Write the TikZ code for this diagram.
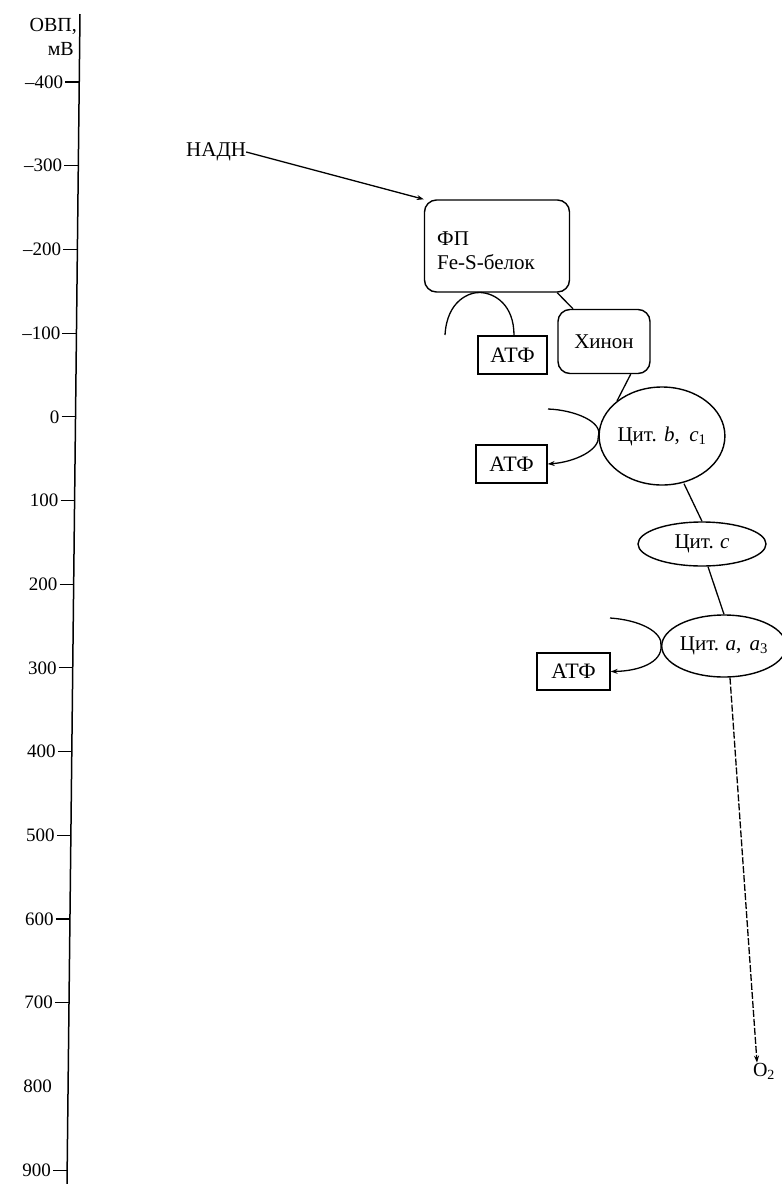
\documentclass[tikz,border=0pt]{standalone}
\usepackage{fontspec}
\setmainfont{Liberation Serif}
\usetikzlibrary{arrows.meta,shapes.geometric}
\tikzset{
  ln/.style={line width=1.3pt, black},
  arr/.style={ln, -{Stealth[length=7pt,width=5pt]}},
  rbox/.style={draw, line width=1.4pt, rounded corners=12pt, font=\fontsize{21}{24}\selectfont},
  atp/.style={draw, line width=1.4pt, inner sep=0pt, font=\fontsize{22}{24}\selectfont},
  ell/.style={draw, ellipse, line width=1.4pt, inner sep=0pt, font=\fontsize{21}{23}\selectfont},
  tick/.style={line width=1.1pt},
  ticklab/.style={anchor=east, inner sep=0pt, font=\fontsize{19}{21}\selectfont},
}
\begin{document}
\begin{tikzpicture}[x=1pt,y=-1pt]
\useasboundingbox (0,0) rectangle (782,1184);
% axis
\coordinate (atop) at (80,14);
\coordinate (abot) at (67,1184);
\draw[line width=1.5pt] (atop) -- (abot);
\node[anchor=east, inner sep=0pt, font=\fontsize{20}{22}\selectfont] (ovp) at (77,26) {ОВП,};
\node[anchor=east, inner sep=0pt, font=\fontsize{20}{22}\selectfont] (mv) at (74,49) {мВ};
\foreach \lab [count=\i from 0] in {\textendash400,\textendash300,\textendash200,\textendash100,0,100,200,300,400,500,600,700,800,900}{
  \pgfmathsetmacro{\yy}{82+83.7*\i}
  \pgfmathsetmacro{\xx}{80-13*(\yy-14)/1170}
  \ifnum\i=12\else
  \draw[tick] (\xx-14,\yy) -- (\xx,\yy);
  \fi
  \node[ticklab] (t\i) at (\xx-16,\yy) {\lab};
}
% nodes
\node[anchor=west, inner sep=0pt, font=\fontsize{21}{23}\selectfont] (nadh) at (186,152) {НАДН};
\node[rbox, minimum width=145pt, minimum height=92pt] (fp) at (497,246) {};
\node[anchor=west, inner sep=0pt, align=left, font=\fontsize{21}{24}\selectfont] (fptxt) at (437,251) {ФП\\Fe-S-белок};
\node[rbox, minimum width=92pt, minimum height=64pt] (hin) at (604,341.5) {Хинон};
\node[atp, minimum width=69pt, minimum height=38pt] (atp1) at (512.5,355) {АТФ};
\node[ell, minimum width=119pt, minimum height=98pt] (cb) at (662,436) {Цит.\hspace{0.35em}\textit{b},\hspace{0.45em}\textit{c}\textsubscript{1}};
\node[atp, minimum width=71pt, minimum height=38pt] (atp2) at (511.5,464) {АТФ};
\node[ell, minimum width=128pt, minimum height=44pt] (cc) at (702,544) {Цит.\hspace{0.3em}\textit{c}};
\node[ell, minimum width=118pt, minimum height=62pt] (ca) at (724,646) {Цит.\hspace{0.3em}\textit{a},\hspace{0.4em}\textit{a}\textsubscript{3}};
\node[atp, minimum width=73pt, minimum height=37pt] (atp3) at (573.5,671.5) {АТФ};
\node[inner sep=0pt, font=\fontsize{20}{22}\selectfont] (o2) at (764,1071) {O\textsubscript{2}};
% connectors
\draw[arr] (nadh.east) -- (fp.north west);
\draw[ln] (fp.south east) ++(-13,0) coordinate (fpse) -- (hin.north west -| 573,0);
\draw[ln] (hin.south east) ++(-20,0) coordinate (hinb) -- (cb.north west);
\coordinate (s1) at (445,335);
\draw[ln] (s1) .. controls (447,300) and (470,292) .. (480,292.5) .. controls (495,293) and (514,305) .. (atp1.north east -| 514,0);
\coordinate (s2) at (548,409);
\draw[arr] (s2) .. controls (575,410) and (603,422) .. (cb.west) .. controls (600,450) and (575,462) .. (atp2.east);
\draw[ln] (cb.south) ++(22,-2) coordinate (cbb) -- (cc.north);
\draw[ln] (cc.south) ++(6,0) coordinate (ccb) -- (ca.north);
\coordinate (s3) at (610,618);
\draw[arr] (s3) .. controls (640,620) and (663,632) .. (ca.west) .. controls (662,662) and (640,671) .. (atp3.east);
\draw[ln, dash pattern=on 7pt off 2pt, -{Stealth[length=7pt,width=5pt]}] (ca.south) ++(6,0) coordinate (cab) -- (o2.north -| 757,0);
\end{tikzpicture}
\end{document}
